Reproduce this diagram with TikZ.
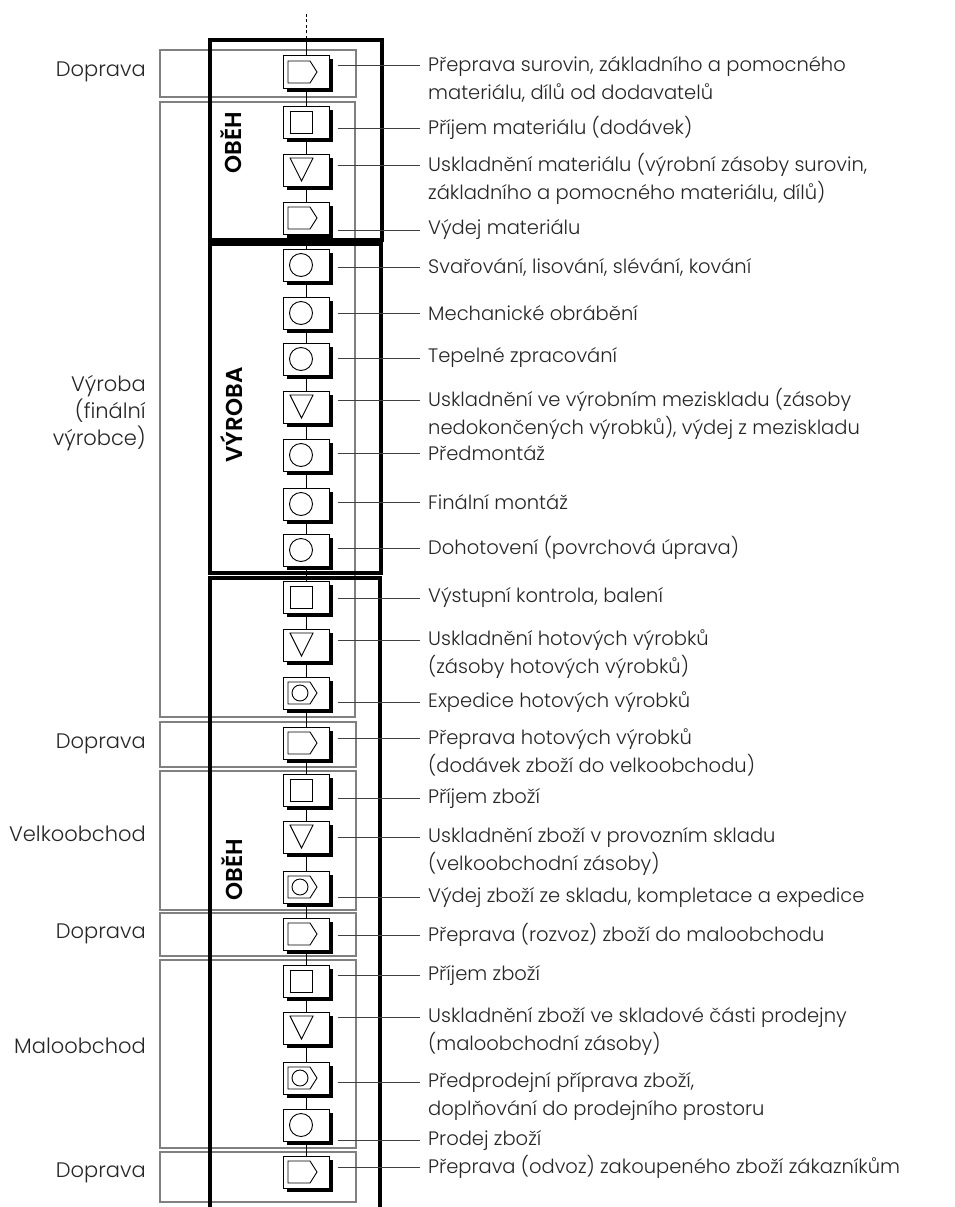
\documentclass[tikz,border=0pt]{standalone}
\usepackage{fontspec}
\usetikzlibrary{shadows}
\IfFontExistsTF{Poppins Light}{\setmainfont{Poppins Light}}{\setmainfont{Poppins}}
\IfFontExistsTF{Poppins SemiBold}{\newfontfamily\blockfont{Poppins SemiBold}}{\newfontfamily\blockfont{Poppins}[FakeBold=2]}

% one step of the chain: box with icon, leader line and description
\newcommand\flowstep[6]{%
  \node[#2] (b#1) at (306,#3) {};
  \coordinate (e#1) at (420,#4);
  \node[note] (t#1) at (428,#5) {#6};
  \draw[leader] (b#1.east |- e#1) ++(8,0) -- (e#1);
}

\begin{document}
\begin{tikzpicture}[x=1pt,y=-1pt,
  frame/.style={draw=black!50, line width=1.1pt},
  block/.style={draw=black, line width=3.2pt},
  blocklabel/.style={rotate=90, inner sep=0pt, font=\blockfont\fontsize{23}{23}\selectfont},
  side/.style={anchor=east, align=right, inner sep=0pt, text=black!85, font=\fontsize{21}{27}\selectfont},
  note/.style={anchor=west, align=left, inner sep=0pt, text=black!85, font=\fontsize{19.5}{28}\selectfont},
  leader/.style={draw=black!75, line width=0.9pt},
  flow/.style={draw=black, line width=1pt},
  icon/.style={draw=black, line width=0.9pt},
  stage/.style={draw=black, line width=1pt, fill=white, minimum width=46pt, minimum height=32pt, inner sep=0pt,
    drop shadow={shadow xshift=3.5pt, shadow yshift=-3.5pt, opacity=1, fill=black}},
  transport/.style={stage, path picture={\begin{scope}[shift={(path picture bounding box.center)}]
      \draw[icon] (-18,-11) -- (4,-11) -- (11,0) -- (4,11) -- (-18,11) -- cycle;\end{scope}}},
  receipt/.style={stage, path picture={\begin{scope}[shift={(path picture bounding box.center)}]
      \draw[icon] (-16,-11) rectangle (6,11);\end{scope}}},
  store/.style={stage, path picture={\begin{scope}[shift={(path picture bounding box.center)}]
      \draw[icon] (-16,-12) -- (7,-12) -- (-4.5,11) -- cycle;\end{scope}}},
  operation/.style={stage, path picture={\begin{scope}[shift={(path picture bounding box.center)}]
      \draw[icon] (-5,0) circle[radius=11.5];\end{scope}}},
  dispatch/.style={stage, path picture={\begin{scope}[shift={(path picture bounding box.center)}]
      \draw[icon] (-18,-11) -- (4,-11) -- (11,0) -- (4,11) -- (-18,11) -- cycle;
      \draw[icon] (-6,0) circle[radius=8];\end{scope}}},
]
\useasboundingbox (0,0) rectangle (955,1207);
\fill[white] (0,0) rectangle (955,1207);

% thin frames of the participants
\draw[frame] (160,50) rectangle (356,97);
\draw[frame] (160,102) rectangle (355,717);
\draw[frame] (160,722) rectangle (356,767);
\draw[frame] (160,771) rectangle (356,910);
\draw[frame] (160,913) rectangle (356,956);
\draw[frame] (160,960) rectangle (356,1148);
\draw[frame] (160,1152) rectangle (356,1202);

% bold frames of the phases
\draw[block] (210,40) rectangle (382,240);
\draw[block] (210,244) rectangle (381,573);
\draw[block] (210,1215) -- (210,578) -- (380,578) -- (380,1215);

\node[blocklabel] (ob1) at (231,143) {OBĚH};
\node[blocklabel] (vyr) at (232,415) {VÝROBA};
\node[blocklabel] (ob2) at (232,870) {OBĚH};

% participants
\node[side] (s1) at (146,72) {Doprava};
\node[side] (s2) at (146,413) {Výroba\\(finální\\výrobce)};
\node[side] (s3) at (146,744) {Doprava};
\node[side] (s4) at (146,834) {Velkoobchod};
\node[side] (s5) at (146,934) {Doprava};
\node[side] (s6) at (146,1046) {Maloobchod};
\node[side] (s7) at (146,1173) {Doprava};

% the chain of steps
\flowstep{1}{transport}{72}{65}{79}{Přeprava surovin, základního a pomocného\\materiálu, dílů od dodavatelů}
\flowstep{2}{receipt}{122}{128}{128}{Příjem materiálu (dodávek)}
\flowstep{3}{store}{170}{165}{179}{Uskladnění materiálu (výrobní zásoby surovin,\\základního a pomocného materiálu, dílů)}
\flowstep{4}{transport}{218}{230}{230}{Výdej materiálu}
\flowstep{5}{operation}{265}{267}{267}{Svařování, lisování, slévání, kování}
\flowstep{6}{operation}{313}{313}{313}{Mechanické obrábění}
\flowstep{7}{operation}{359}{358}{358}{Tepelné zpracování}
\flowstep{8}{store}{407}{400}{414}{Uskladnění ve výrobním meziskladu (zásoby\\nedokončených výrobků), výdej z meziskladu}
\flowstep{9}{operation}{455}{453}{453}{Předmontáž}
\flowstep{10}{operation}{504}{502}{502}{Finální montáž}
\flowstep{11}{operation}{550}{548}{548}{Dohotovení (povrchová úprava)}
\flowstep{12}{receipt}{597}{598}{598}{Výstupní kontrola, balení}
\flowstep{13}{store}{645}{640}{654}{Uskladnění hotových výrobků\\(zásoby hotových výrobků)}
\flowstep{14}{dispatch}{693}{702}{702}{Expedice hotových výrobků}
\flowstep{15}{transport}{743}{738}{752}{Přeprava hotových výrobků\\(dodávek zboží do velkoobchodu)}
\flowstep{16}{receipt}{790}{798}{798}{Příjem zboží}
\flowstep{17}{store}{837}{837}{851}{Uskladnění zboží v provozním skladu\\(velkoobchodní zásoby)}
\flowstep{18}{dispatch}{887}{897}{897}{Výdej zboží ze skladu, kompletace a expedice}
\flowstep{19}{transport}{934}{935}{935}{Přeprava (rozvoz) zboží do maloobchodu}
\flowstep{20}{receipt}{981}{975}{975}{Příjem zboží}
\flowstep{21}{store}{1028}{1017}{1031}{Uskladnění zboží ve skladové části prodejny\\(maloobchodní zásoby)}
\flowstep{22}{dispatch}{1078}{1082}{1096}{Předprodejní příprava zboží,\\doplňování do prodejního prostoru}
\flowstep{23}{operation}{1125}{1140}{1140}{Prodej zboží}
\flowstep{24}{transport}{1172}{1167}{1167}{Přeprava (odvoz) zakoupeného zboží zákazníkům}

% flow line through the chain
\coordinate (entry) at (306,14);
\coordinate (gate) at (306,40);
\draw[flow, dash pattern=on 3pt off 2.5pt] (entry) -- (gate);
\draw[flow] (gate) -- (b1);
\foreach \i [evaluate=\i as \j using int(\i+1)] in {1,...,23}
  \draw[flow] (b\i) -- (b\j);
\end{tikzpicture}
\end{document}
